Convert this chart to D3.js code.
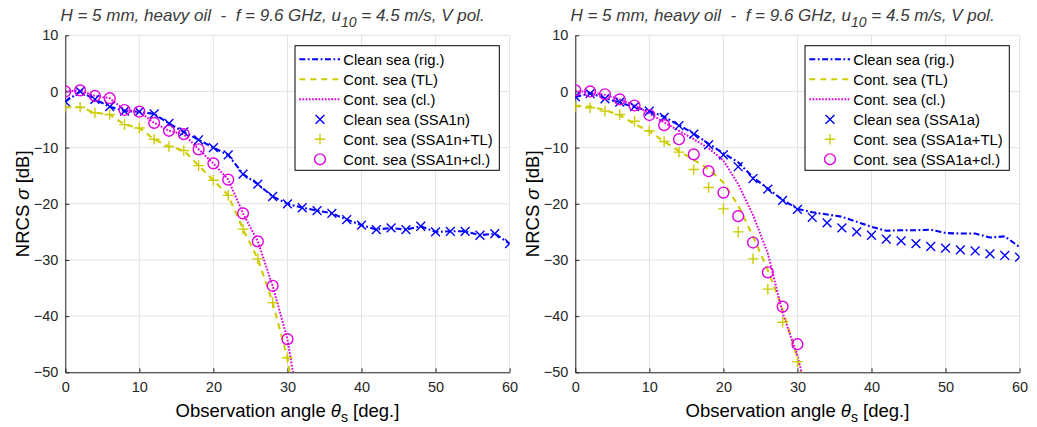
<!DOCTYPE html>
<html><head><meta charset="utf-8">
<script src="https://cdn.jsdelivr.net/npm/d3@7"></script>
<style>
body{margin:0;background:#fff;}
svg{display:block;font-family:"Liberation Sans",Arial,Helvetica,sans-serif;}
</style></head>
<body><svg id="chart" width="1037" height="427"></svg>
<script>
// ---------- data ----------
const theta = [0,2,4,6,8,10,12,14,16,18,20,22,24,26,28,30,32,34,36,38,40,42,44,46,48,50,52,54,56,58,60];
const thetaShort = [0,2,4,6,8,10,12,14,16,18,20,22,24,26,28,30];
const thetaLine = [0,2,4,6,8,10,12,14,16,18,20,22,24,26,28,30,32];
const xTicks = [0,10,20,30,40,50,60];
const yTicks = [10,0,-10,-20,-30,-40,-50];

// left panel (SSA1n)
const leftCleanRig = [-1.8,0.0,-1.4,-2.7,-3.5,-3.6,-4.0,-5.7,-7.2,-8.6,-10.0,-11.3,-14.7,-16.5,-18.7,-20.0,-20.7,-21.2,-21.7,-22.8,-23.8,-24.6,-24.3,-24.6,-24.0,-25.0,-24.9,-24.9,-25.6,-25.3,-27.1];
const leftContTL = [-2.8,-2.8,-3.8,-4.1,-5.9,-6.5,-8.5,-9.8,-10.5,-13.2,-15.8,-18.5,-24.5,-29.8,-37.6,-47.4,-66];
const leftContCl = [0.0,0.2,-0.8,-1.2,-3.3,-3.6,-5.6,-7.0,-7.6,-10.3,-12.8,-15.7,-21.7,-26.7,-34.6,-44.1,-60];
const leftCleanSSA = [-1.8,0.0,-1.4,-2.7,-3.5,-3.6,-4.0,-5.7,-7.2,-8.6,-10.0,-11.3,-14.7,-16.5,-18.7,-20.0,-20.7,-21.2,-21.7,-22.8,-23.8,-24.6,-24.3,-24.6,-24.0,-25.0,-24.9,-24.9,-25.6,-25.3,-27.1];
const leftSSATL = [-2.8,-2.8,-3.8,-4.1,-5.9,-6.5,-8.5,-9.8,-10.5,-13.2,-15.8,-18.5,-24.5,-29.8,-37.6,-47.4];
const leftSSACl = [0.0,0.2,-0.8,-1.2,-3.3,-3.6,-5.6,-7.0,-7.6,-10.3,-12.8,-15.7,-21.7,-26.7,-34.6,-44.1];

// right panel (SSA1a)
const rightCleanRig = [-1.0,-0.3,-1.2,-2.0,-2.8,-3.5,-4.5,-6.0,-7.5,-9.3,-11.0,-12.6,-15.3,-17.3,-19.3,-20.9,-21.5,-21.9,-22.3,-23.2,-24.1,-24.8,-24.7,-24.7,-24.6,-25.2,-25.3,-25.3,-26.0,-25.8,-27.7];
const rightContTL = [-2.5,-2.7,-3.3,-4.2,-5.8,-7.1,-8.9,-10.6,-12.2,-13.8,-16.2,-20.3,-25.8,-31.8,-38.8,-47.5,-58];
const rightContCl = [0.1,-0.1,-0.6,-1.4,-2.5,-3.9,-5.5,-7.0,-8.5,-10.1,-12.3,-16.5,-22.0,-28.8,-39.5,-47.0,-58];
const rightCleanSSA = [-0.9,-0.4,-1.3,-1.9,-2.7,-3.5,-4.6,-6.1,-7.6,-9.5,-11.3,-13.4,-15.5,-17.4,-19.4,-21.0,-22.4,-23.4,-24.3,-25.0,-25.6,-26.3,-26.6,-27.1,-27.6,-27.9,-28.2,-28.4,-28.9,-29.2,-29.5];
const rightSSATL = [-2.7,-2.9,-3.5,-4.1,-5.3,-7.0,-8.9,-10.8,-13.9,-17.1,-20.9,-25.0,-29.8,-35.2,-41.1,-48.1];
const rightSSACl = [0.2,0.0,-0.5,-1.4,-2.5,-4.2,-6.0,-8.5,-11.2,-14.2,-18.0,-22.2,-26.9,-32.2,-38.3,-45.0];

const leftLegend = ["Clean sea (rig.)","Cont. sea (TL)","Cont. sea (cl.)","Clean sea (SSA1n)","Cont. sea (SSA1n+TL)","Cont. sea (SSA1n+cl.)"];
const rightLegend = ["Clean sea (rig.)","Cont. sea (TL)","Cont. sea (cl.)","Clean sea (SSA1a)","Cont. sea (SSA1a+TL)","Cont. sea (SSA1a+cl.)"];

// ---------- styles ----------
const BLUE="#0000ff", YEL="#cccc00", MAG="#e000e0", AX="#262626";
const lineStyles = [
  {color:BLUE, dash:"6,2.5,1.8,2.5", w:2.1},
  {color:YEL, dash:"6,5", w:2.1},
  {color:MAG, dash:"1.7,1.5", w:2.0}
];
const markerTypes = [{color:BLUE,type:"x"},{color:YEL,type:"+"},{color:MAG,type:"o"}];

const svg = d3.select("#chart");

function marker(g, type, color, cx, cy){
  if(type==="x"){
    const s=4.4;
    g.append("path").attr("d",`M${cx-s},${cy-s}L${cx+s},${cy+s}M${cx-s},${cy+s}L${cx+s},${cy-s}`)
      .attr("stroke",color).attr("stroke-width",1.4).attr("fill","none");
  } else if(type==="+"){
    const s=5.3;
    g.append("path").attr("d",`M${cx-s},${cy}L${cx+s},${cy}M${cx},${cy-s}L${cx},${cy+s}`)
      .attr("stroke",color).attr("stroke-width",1.4).attr("fill","none");
  } else {
    g.append("circle").attr("cx",cx).attr("cy",cy).attr("r",5.4)
      .attr("stroke",color).attr("stroke-width",1.4).attr("fill","none");
  }
}

function panel(off, idx, lines, markers, legendLabels){
  const x = d3.scaleLinear().domain([0,60]).range([65.3+off, 509.6+off]);
  const y = d3.scaleLinear().domain([-50,10]).range([372.3, 35.3]);
  const g = svg.append("g");
  const clipId = "clip"+idx;
  svg.append("clipPath").attr("id",clipId).append("rect")
    .attr("x",x(0)).attr("y",y(10)).attr("width",x(60)-x(0)).attr("height",y(-50)-y(10));

  // grid
  const grid = g.append("g");
  xTicks.forEach(t=>grid.append("line").attr("x1",x(t)).attr("x2",x(t)).attr("y1",y(10)).attr("y2",y(-50))
    .attr("stroke","#e2e2e2").attr("stroke-width",1));
  yTicks.forEach(t=>grid.append("line").attr("x1",x(0)).attr("x2",x(60)).attr("y1",y(t)).attr("y2",y(t))
    .attr("stroke","#e2e2e2").attr("stroke-width",1));

  // axes
  const ax = g.append("g").attr("transform",`translate(0,${y(-50)})`)
    .call(d3.axisBottom(x).tickValues(xTicks).tickSizeInner(-4).tickSizeOuter(0).tickPadding(9).tickFormat(d3.format("d")));
  const ay = g.append("g").attr("transform",`translate(${x(0)},0)`)
    .call(d3.axisLeft(y).tickValues(yTicks).tickSizeInner(-4).tickSizeOuter(0).tickPadding(7).tickFormat(d3.format("d")));
  [ax,ay].forEach(a=>{
    a.selectAll("path").attr("stroke",AX);
    a.selectAll("line").attr("stroke",AX);
    a.selectAll("text").attr("fill",AX).style("font-size","14.5px").style("font-family",'"Liberation Sans",Arial,sans-serif');
  });

  // data
  const plotG = g.append("g").attr("clip-path",`url(#${clipId})`);
  lines.forEach((ln,i)=>{
    const st = lineStyles[i];
    const line = d3.line().x((d,j)=>x(ln.xs[j])).y(d=>y(d));
    plotG.append("path").datum(ln.ys).attr("d",line).attr("fill","none")
      .attr("stroke",st.color).attr("stroke-width",st.w).attr("stroke-dasharray",st.dash);
  });
  markers.forEach((mk,i)=>{
    const mt = markerTypes[i];
    mk.ys.forEach((v,j)=>marker(plotG, mt.type, mt.color, x(mk.xs[j]), y(v)));
  });

  // title
  const title = g.append("text").attr("x",272.5+off).attr("y",21).attr("text-anchor","middle")
    .style("font-style","italic").style("font-size","17px").attr("fill","#3a3a3a").style("white-space","pre");
  title.append("tspan").text("H = 5 mm, heavy oil  -  f = 9.6 GHz, u");
  title.append("tspan").attr("dy",5.5).style("font-size","14px").text("10");
  title.append("tspan").attr("dy",-5.5).text(" = 4.5 m/s, V pol.");

  // axis labels
  const xl = g.append("text").attr("x",(x(0)+x(60))/2).attr("y",417).attr("text-anchor","middle")
    .style("font-size","18.5px").attr("fill","#000").style("white-space","pre");
  xl.append("tspan").text("Observation angle ");
  xl.append("tspan").style("font-style","italic").text("θ");
  xl.append("tspan").attr("dy",5).style("font-size","14px").text("s");
  xl.append("tspan").attr("dy",-5).text(" [deg.]");

  const yl = g.append("text").attr("transform",`translate(${29+off},${(y(10)+y(-50))/2}) rotate(-90)`)
    .attr("text-anchor","middle").style("font-size","18.5px").attr("fill","#000").style("white-space","pre");
  yl.append("tspan").text("NRCS ");
  yl.append("tspan").style("font-style","italic").text("σ");
  yl.append("tspan").text(" [dB]");

  // legend
  const lg = g.append("g");
  const lx0 = 295+off, ly0 = 45.7;
  lg.append("rect").attr("x",lx0).attr("y",ly0).attr("width",204.3).attr("height",124.6)
    .attr("fill","#fff").attr("stroke","#000").attr("stroke-width",1);
  legendLabels.forEach((lab,i)=>{
    const ry = 59.3 + i*20;
    if(i<3){
      const st = lineStyles[i];
      lg.append("line").attr("x1",299.3+off).attr("x2",340+off).attr("y1",ry).attr("y2",ry)
        .attr("stroke",st.color).attr("stroke-width",st.w).attr("stroke-dasharray",st.dash);
    } else {
      const mt = markerTypes[i-3];
      marker(lg, mt.type, mt.color, 320+off, ry);
    }
    lg.append("text").attr("x",343.3+off).attr("y",ry+5.2).style("font-size","14.8px").attr("fill","#000").text(lab);
  });
}

panel(0, 0,
  [{xs:theta,ys:leftCleanRig},{xs:thetaLine,ys:leftContTL},{xs:thetaLine,ys:leftContCl}],
  [{xs:theta,ys:leftCleanSSA},{xs:thetaShort,ys:leftSSATL},{xs:thetaShort,ys:leftSSACl}],
  leftLegend);
panel(510, 1,
  [{xs:theta,ys:rightCleanRig},{xs:thetaLine,ys:rightContTL},{xs:thetaLine,ys:rightContCl}],
  [{xs:theta,ys:rightCleanSSA},{xs:thetaShort,ys:rightSSATL},{xs:thetaShort,ys:rightSSACl}],
  rightLegend);
</script></body></html>
